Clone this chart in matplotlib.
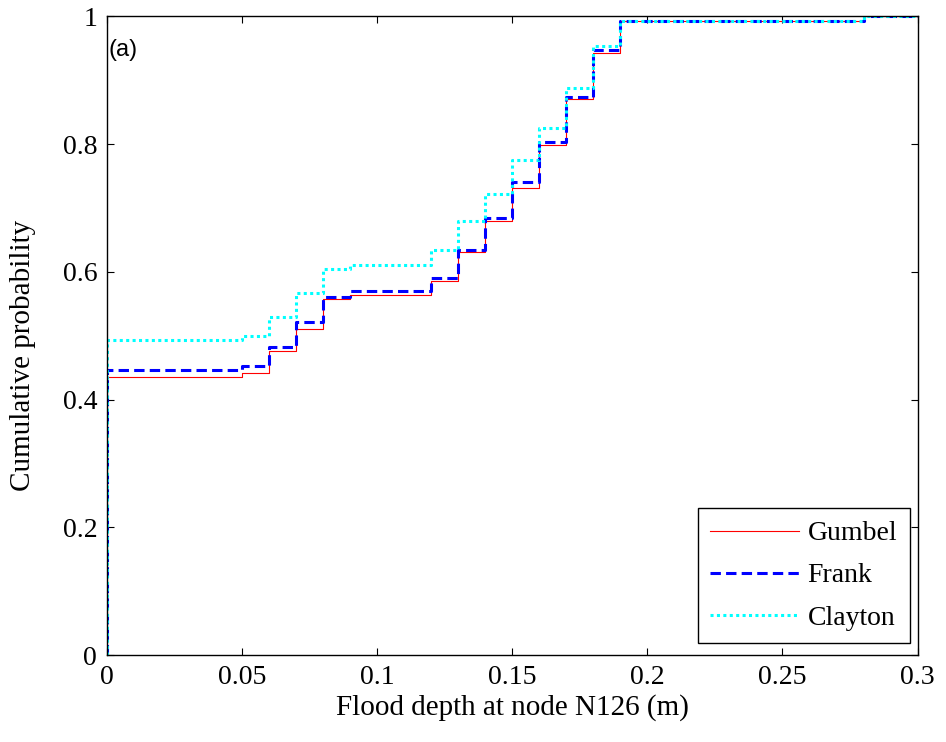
import matplotlib
matplotlib.use("Agg")
import matplotlib.pyplot as plt

# step positions (flood depth, m) and cumulative probabilities
depth = [0.0, 0.0, 0.05, 0.06, 0.07, 0.08, 0.09, 0.12, 0.13, 0.14, 0.15, 0.16, 0.17, 0.18, 0.19, 0.28, 0.30]
gumbel = [0.0, 0.436, 0.441, 0.476, 0.511, 0.558, 0.564, 0.585, 0.631, 0.679, 0.731, 0.799, 0.870, 0.943, 0.992, 1.0, 1.0]
frank = [0.0, 0.447, 0.453, 0.482, 0.521, 0.560, 0.570, 0.590, 0.634, 0.684, 0.740, 0.803, 0.874, 0.948, 0.993, 1.0, 1.0]
clayton = [0.0, 0.494, 0.500, 0.529, 0.567, 0.604, 0.611, 0.635, 0.679, 0.722, 0.775, 0.825, 0.888, 0.954, 0.993, 1.0, 1.0]

xticks = [0, 0.05, 0.1, 0.15, 0.2, 0.25, 0.3]
xticklabels = ["0", "0.05", "0.1", "0.15", "0.2", "0.25", "0.3"]
yticks = [0, 0.2, 0.4, 0.6, 0.8, 1.0]
yticklabels = ["0", "0.2", "0.4", "0.6", "0.8", "1"]

serif = "Liberation Serif"

fig = plt.figure(figsize=(9.46, 7.42), dpi=100)
ax = fig.add_axes([0.113, 0.117, 0.857, 0.861])

ax.step(depth, gumbel, where="post", color="red", linewidth=0.8, label="Gumbel")
ax.step(depth, frank, where="post", color="blue", linewidth=2.2, linestyle=(0, (3.4, 1.7)), label="Frank")
ax.step(depth, clayton, where="post", color="cyan", linewidth=2.2, linestyle=(0, (1, 1.1)), label="Clayton")

ax.set_xlim(0, 0.3)
ax.set_ylim(0, 1)
ax.set_xticks(xticks)
ax.set_xticklabels(xticklabels, fontfamily=serif, fontsize=20)
ax.set_yticks(yticks)
ax.set_yticklabels(yticklabels, fontfamily=serif, fontsize=20)
ax.tick_params(direction="in", top=True, right=True, length=5, width=0.8, pad=7)
for spine in ax.spines.values():
    spine.set_linewidth(1.0)

ax.set_xlabel("Flood depth at node N126 (m)", fontfamily=serif, fontsize=21, labelpad=3)
ax.set_ylabel("Cumulative probability", fontfamily=serif, fontsize=21)
ax.yaxis.set_label_coords(-0.088, 0.47)

ax.text(0.002, 0.965, "(a)", transform=ax.transAxes, fontfamily="Liberation Sans",
        fontsize=17, va="top", ha="left")

leg = ax.legend(loc="lower right", bbox_to_anchor=(0.99, 0.019), prop={"family": serif, "size": 20},
                fancybox=False, edgecolor="black", framealpha=1, handlelength=3.2,
                borderpad=0.45, labelspacing=0.6, handletextpad=0.3, borderaxespad=0)
leg.get_frame().set_linewidth(1.0)

fig.savefig("out.png", dpi=100)
